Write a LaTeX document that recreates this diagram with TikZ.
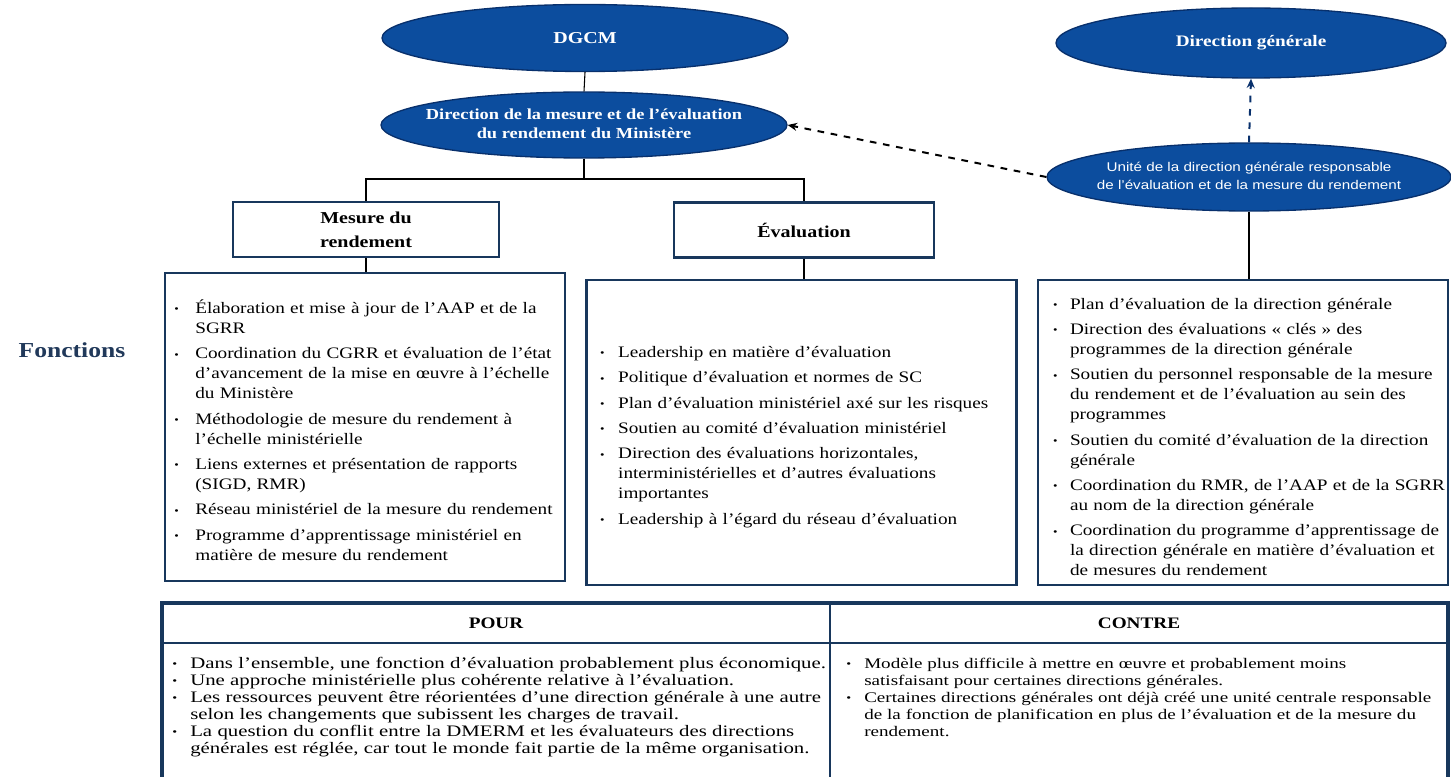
\documentclass[tikz,border=0pt]{standalone}
\usepackage{fontspec}
\setmainfont{Liberation Serif}[FakeStretch=1.2]
\newfontfamily\tablefont{Liberation Serif}[FakeStretch=1.3,Ligatures=TeX]
\newfontfamily\unitefont{Liberation Sans}[FakeStretch=1.2,Ligatures=TeX]
\usepackage{enumitem}
\usetikzlibrary{shapes.geometric,arrows.meta}
\definecolor{ovalblue}{RGB}{12,77,158}
\definecolor{ovalline}{RGB}{8,48,108}
\definecolor{navy}{RGB}{24,55,92}
\definecolor{titleblue}{RGB}{33,57,90}
\setlist[itemize]{label={\raisebox{.1ex}{\footnotesize\textbullet}},align=left,leftmargin=14pt,labelwidth=8pt,labelsep=6pt,itemsep=4pt,parsep=0pt,topsep=0pt,partopsep=0pt,rightmargin=-30pt}
\newcommand{\ovaltext}[1]{\makebox[0pt]{\begin{tabular}{@{}c@{}}#1\end{tabular}}}

\begin{document}
\begin{tikzpicture}[x=0.75pt,y=-0.75pt,
        oval/.style={ellipse,fill=ovalblue,draw=ovalline,line width=1pt,text=white,inner sep=0pt},
        titlebox/.style={draw=navy,line width=2pt,fill=white,align=center,font=\bfseries\fontsize{12.5}{18}\selectfont,inner sep=0pt},
        listbox/.style={draw=navy,line width=2.2pt,fill=white,align=left,font=\fontsize{12}{15}\selectfont,inner ysep=0pt},
        tablist/.style={anchor=north west,text width=490pt,inner sep=0pt,align=left,font=\tablefont\fontsize{12}{12.75}\selectfont},
        head/.style={font=\bfseries\fontsize{12}{14}\selectfont},
        link/.style={line width=0.8pt},
        dashlink/.style={line width=1.5pt,dash pattern=on 5pt off 5pt,-{Stealth[length=7pt,width=6pt]}}]
        \useasboundingbox (0,0) rectangle (1451,777);
        \node[oval,minimum width=304.5pt,minimum height=50.25pt,font=\bfseries\fontsize{12.5}{15}\selectfont] (dgcm) at (585,38) {DGCM};
        \node[oval,minimum width=304.5pt,minimum height=49.5pt,font=\bfseries\fontsize{11.5}{14.5}\selectfont] (dmerm) at (584,125) {\ovaltext{Direction de la mesure et de l'évaluation\\du rendement du Ministère}};
        \node[oval,minimum width=292.5pt,minimum height=52.5pt,font=\bfseries\fontsize{12}{15}\selectfont] (dg) at (1251,43) {Direction générale};
        \node[oval,minimum width=303pt,minimum height=51pt,font=\unitefont\fontsize{9.5}{13}\selectfont] (unite) at (1249,177) {\ovaltext{Unité de la direction générale responsable\\de l'évaluation et de la mesure du rendement}};
        \node[titlebox,minimum width=199.5pt,minimum height=41.25pt] (mesure) at (366,229.5) {Mesure du\\rendement};
        \node[titlebox,minimum width=195pt,minimum height=41.25pt] (evaluation) at (804,230) {Évaluation};
        \node[font=\bfseries\fontsize{16}{18}\selectfont,text=titleblue] (fonctions) at (72,350) {Fonctions};
        \node[listbox,text width=286pt,inner xsep=7pt,minimum height=231pt] (mesurelist) at (365,427) {%
            \begin{itemize}[leftmargin=15.75pt,labelsep=7.75pt]
            \item Élaboration et mise à jour de l'AAP et de la\\SGRR
            \item Coordination du CGRR et évaluation de l'état\\d'avancement de la mise en œuvre à l'échelle\\du Ministère
            \item Méthodologie de mesure du rendement à\\l'échelle ministérielle
            \item Liens externes et présentation de rapports\\(SIGD, RMR)
            \item Réseau ministériel de la mesure du rendement
            \item Programme d'apprentissage ministériel en\\matière de mesure du rendement
            \end{itemize}};
        \node[listbox,text width=302pt,inner xsep=10.5pt,minimum height=228.75pt] (evallist) at (801.5,432.5) {%
            \begin{itemize}[leftmargin=13.5pt,labelsep=5.5pt]
            \item Leadership en matière d'évaluation
            \item Politique d'évaluation et normes de SC
            \item Plan d'évaluation ministériel axé sur les risques
            \item Soutien au comité d'évaluation ministériel
            \item Direction des évaluations horizontales,\\interministérielles et d'autres évaluations\\importantes
            \item Leadership à l'égard du réseau d'évaluation
            \end{itemize}};
        \node[listbox,text width=285pt,inner xsep=11.25pt,minimum height=228.75pt] (dglist) at (1243,432.5) {%
            \begin{itemize}[leftmargin=12.75pt,labelsep=4.75pt]
            \item Plan d'évaluation de la direction générale
            \item Direction des évaluations « clés » des\\programmes de la direction générale
            \item Soutien du personnel responsable de la mesure\\du rendement et de l'évaluation au sein des\\programmes
            \item Soutien du comité d'évaluation de la direction\\générale
            \item Coordination du RMR, de l'AAP et de la SGRR\\au nom de la direction générale
            \item Coordination du programme d'apprentissage de\\la direction générale en matière d'évaluation et\\de mesures du rendement
            \end{itemize}};
        \coordinate (split) at (584,179);
        \draw[link] (dgcm.south) -- (dmerm.north);
        \draw[link] (dmerm.south) -- (split);
        \draw[link] (mesure.north) |- (split) -| (evaluation.north);
        \draw[link] (mesure.south) -- (mesure.south |- mesurelist.north);
        \draw[link] (evaluation.south) -- (evaluation.south |- evallist.north);
        \draw[link] (unite.south) -- (unite.south |- dglist.north);
        \draw[dashlink] (unite.west) -- (dmerm.east);
        \draw[dashlink,ovalline] (unite.north) -- (dg.south);
        \draw[navy,line width=2.6pt] (162,777) -- (162,603) -- (1448,603) -- (1448,777);
        \draw[navy,line width=1.5pt] (162,643) -- (1448,643);
        \draw[navy,line width=1.2pt] (830,603) -- (830,777);
        \node[head] (pour) at (496,623) {POUR};
        \node[head] (contre) at (1139,623) {CONTRE};
        \node[tablist] (pourlist) at (172,651) {%
            \begin{itemize}[itemsep=0pt,leftmargin=13.5pt,labelsep=5.5pt]
            \item Dans l'ensemble, une fonction d'évaluation probablement plus économique.
            \item Une approche ministérielle plus cohérente relative à l'évaluation.
            \item Les ressources peuvent être réorientées d'une direction générale à une autre\\selon les changements que subissent les charges de travail.
            \item La question du conflit entre la DMERM et les évaluateurs des directions\\générales est réglée, car tout le monde fait partie de la même organisation.
            \end{itemize}};
        \node[tablist,text width=440pt,font=\tablefont\fontsize{11}{12.75}\selectfont] (contrelist) at (846,651) {%
            \begin{itemize}[itemsep=0pt,leftmargin=13.5pt,labelsep=5.5pt]
            \item Modèle plus difficile à mettre en œuvre et probablement moins\\satisfaisant pour certaines directions générales.
            \item Certaines directions générales ont déjà créé une unité centrale responsable\\de la fonction de planification en plus de l'évaluation et de la mesure du\\rendement.
            \end{itemize}};
    \end{tikzpicture}
\end{document}
